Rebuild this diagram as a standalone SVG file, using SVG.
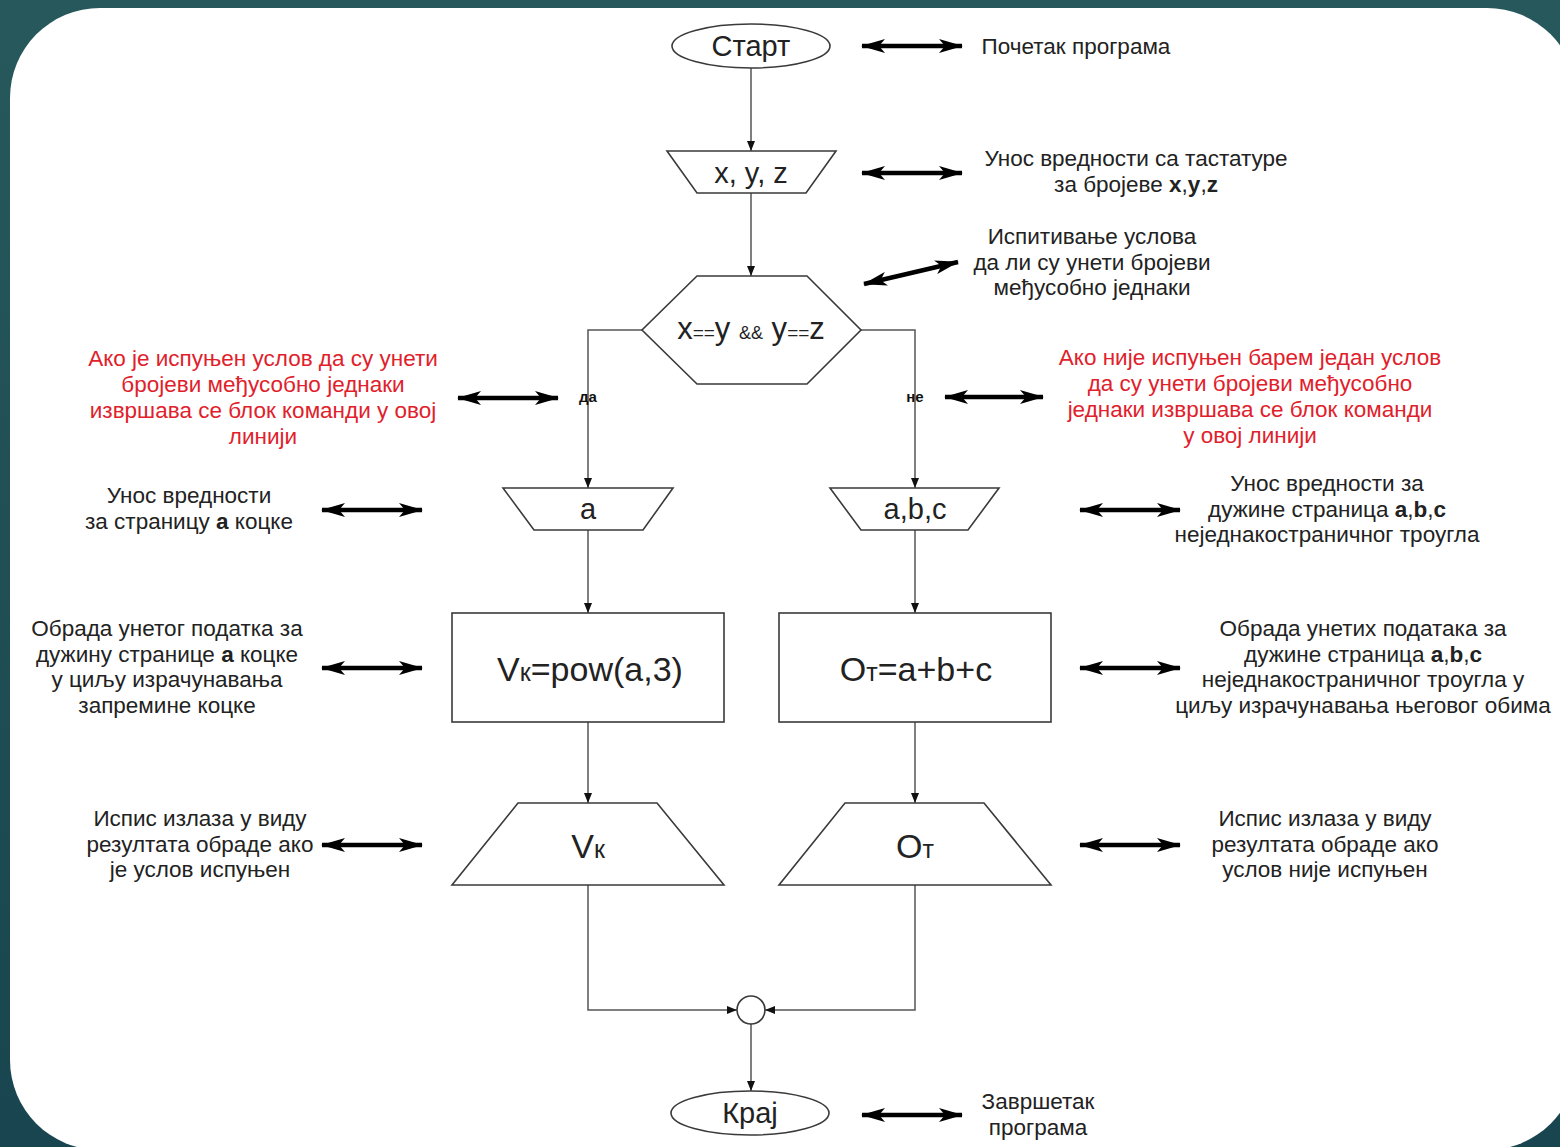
<svg xmlns="http://www.w3.org/2000/svg" width="1560" height="1147" viewBox="0 0 1560 1147">
<defs>
<linearGradient id="bg" x1="0" y1="0" x2="0" y2="1">
<stop offset="0" stop-color="#27595c"/>
<stop offset="1" stop-color="#18454f"/>
</linearGradient>
<marker id="ah" viewBox="0 0 10 8" refX="10" refY="4" markerWidth="10" markerHeight="8" markerUnits="userSpaceOnUse" orient="auto">
<path d="M0,0 L10,4 L0,8 Z" fill="#111"/>
</marker>
<marker id="dh" viewBox="0 0 24 14" refX="23" refY="7" markerWidth="24" markerHeight="14" markerUnits="userSpaceOnUse" orient="auto-start-reverse">
<path d="M0,0 L24,7 L0,14 L6,7 Z" fill="#000"/>
</marker>
<style>
.sh{fill:#fff;stroke:#3a3a3a;stroke-width:1.6}
.ln{fill:none;stroke:#555;stroke-width:1.5}
.dbl{fill:none;stroke:#000;stroke-width:4.5;marker-start:url(#dh);marker-end:url(#dh)}
.t{font-family:"Liberation Sans",Arial,sans-serif;fill:#222;text-anchor:middle}
.nt{font-size:29px}
.big{font-size:34px}
.lb{font-size:22.5px}
.red{fill:#e0212b}
.yn{font-size:15px;font-weight:bold;fill:#111}
.b{font-weight:bold}
</style>
</defs>
<rect x="0" y="0" width="1560" height="1147" fill="url(#bg)"/>
<rect x="10" y="8" width="1567" height="1142" rx="90" ry="90" fill="#fff"/>

<g id="connectors">
<path class="ln" d="M751,68 V151" marker-end="url(#ah)"/>
<path class="ln" d="M751,193 V276" marker-end="url(#ah)"/>
<path class="ln" d="M642,330 H588 V488" marker-end="url(#ah)"/>
<path class="ln" d="M861,330 H915 V488" marker-end="url(#ah)"/>
<path class="ln" d="M588,530 V613" marker-end="url(#ah)"/>
<path class="ln" d="M915,530 V613" marker-end="url(#ah)"/>
<path class="ln" d="M588,722 V803" marker-end="url(#ah)"/>
<path class="ln" d="M915,722 V803" marker-end="url(#ah)"/>
<path class="ln" d="M588,885 V1010 H737" marker-end="url(#ah)"/>
<path class="ln" d="M915,885 V1010 H765" marker-end="url(#ah)"/>
<path class="ln" d="M751,1024 V1091" marker-end="url(#ah)"/>
<text class="t yn" x="588" y="402">да</text>
<text class="t yn" x="915" y="402">не</text>
<path class="dbl" d="M862,46 H962"/>
<path class="dbl" d="M862,173 H962"/>
<path class="dbl" d="M864,284 L958,262"/>
<path class="dbl" d="M458,398 H558"/>
<path class="dbl" d="M945,397 H1043"/>
<path class="dbl" d="M322,510 H422"/>
<path class="dbl" d="M1080,510 H1180"/>
<path class="dbl" d="M322,668 H422"/>
<path class="dbl" d="M1080,668 H1180"/>
<path class="dbl" d="M322,845 H422"/>
<path class="dbl" d="M1080,845 H1180"/>
<path class="dbl" d="M862,1115 H962"/>
</g>

<g id="start">
<ellipse class="sh" cx="751" cy="46" rx="79" ry="22"/>
<text class="t nt" x="751" y="56">Старт</text>
</g>
<g id="input-xyz">
<polygon class="sh" points="667,151 836,151 806,193 697,193"/>
<text class="t nt" x="751" y="183">x, y, z</text>
</g>
<g id="decision">
<polygon class="sh" points="697,276 807,276 861,330 807,384 697,384 642,330"/>
<text class="t" x="751" y="339" style="font-size:31px">x<tspan style="font-size:19px">==</tspan>y <tspan style="font-size:18px">&amp;&amp;</tspan> y<tspan style="font-size:19px">==</tspan>z</text>
</g>
<g id="input-a">
<polygon class="sh" points="503,488 673,488 643,530 534,530"/>
<text class="t nt" x="588" y="519">a</text>
</g>
<g id="input-abc">
<polygon class="sh" points="830,488 999,488 968,530 861,530"/>
<text class="t nt" x="915" y="519">a,b,c</text>
</g>
<g id="process-v">
<rect class="sh" x="452" y="613" width="272" height="109"/>
<text class="t big" x="590" y="681">V<tspan style="font-size:25px">к</tspan>=pow(a,3)</text>
</g>
<g id="process-o">
<rect class="sh" x="779" y="613" width="272" height="109"/>
<text class="t big" x="916" y="681">O<tspan style="font-size:25px">т</tspan>=a+b+c</text>
</g>
<g id="output-v">
<polygon class="sh" points="518,803 657,803 724,885 452,885"/>
<text class="t big" x="588" y="858">V<tspan style="font-size:25px">к</tspan></text>
</g>
<g id="output-o">
<polygon class="sh" points="845,803 984,803 1051,885 779,885"/>
<text class="t big" x="915" y="858">O<tspan style="font-size:25px">т</tspan></text>
</g>
<g id="join">
<circle class="sh" cx="751" cy="1010" r="14"/>
</g>
<g id="end">
<ellipse class="sh" cx="750" cy="1113" rx="79" ry="22"/>
<text class="t nt" x="750" y="1123">Крај</text>
</g>

<g id="notes">
<text class="t lb" x="1076" y="54">Почетак програма</text>
<text class="t lb" x="1136" y="166">Унос вредности са тастатуре<tspan x="1136" dy="26">за бројеве <tspan class="b">x</tspan>,<tspan class="b">y</tspan>,<tspan class="b">z</tspan></tspan></text>
<text class="t lb" x="1092" y="244">Испитивање услова<tspan x="1092" dy="25.5">да ли су унети бројеви</tspan><tspan x="1092" dy="25.5">међусобно једнаки</tspan></text>
<text class="t lb red" x="263" y="366">Ако је испуњен услов да су унети<tspan x="263" dy="26">бројеви међусобно једнаки</tspan><tspan x="263" dy="26">извршава се блок команди у овој</tspan><tspan x="263" dy="26">линији</tspan></text>
<text class="t lb red" x="1250" y="365">Ако није испуњен барем један услов<tspan x="1250" dy="26">да су унети бројеви међусобно</tspan><tspan x="1250" dy="26">једнаки извршава се блок команди</tspan><tspan x="1250" dy="26">у овој линији</tspan></text>
<text class="t lb" x="189" y="503">Унос вредности<tspan x="189" dy="26">за страницу <tspan class="b">а</tspan> коцке</tspan></text>
<text class="t lb" x="1327" y="491">Унос вредности за<tspan x="1327" dy="25.5">дужине страница <tspan class="b">a</tspan>,<tspan class="b">b</tspan>,<tspan class="b">c</tspan></tspan><tspan x="1327" dy="25.5">неједнакостраничног троугла</tspan></text>
<text class="t lb" x="167" y="636">Обрада унетог податка за<tspan x="167" dy="25.7">дужину странице <tspan class="b">а</tspan> коцке</tspan><tspan x="167" dy="25.7">у циљу израчунавања</tspan><tspan x="167" dy="25.7">запремине коцке</tspan></text>
<text class="t lb" x="1363" y="636">Обрада унетих података за<tspan x="1363" dy="25.7">дужине страница <tspan class="b">a</tspan>,<tspan class="b">b</tspan>,<tspan class="b">c</tspan></tspan><tspan x="1363" dy="25.7">неједнакостраничног троугла у</tspan><tspan x="1363" dy="25.7">циљу израчунавања његовог обима</tspan></text>
<text class="t lb" x="200" y="826">Испис излаза у виду<tspan x="200" dy="25.5">резултата обраде ако</tspan><tspan x="200" dy="25.5">је услов испуњен</tspan></text>
<text class="t lb" x="1325" y="826">Испис излаза у виду<tspan x="1325" dy="25.5">резултата обраде ако</tspan><tspan x="1325" dy="25.5">услов није испуњен</tspan></text>
<text class="t lb" x="1038" y="1109">Завршетак<tspan x="1038" dy="26">програма</tspan></text>
</g>
</svg>
